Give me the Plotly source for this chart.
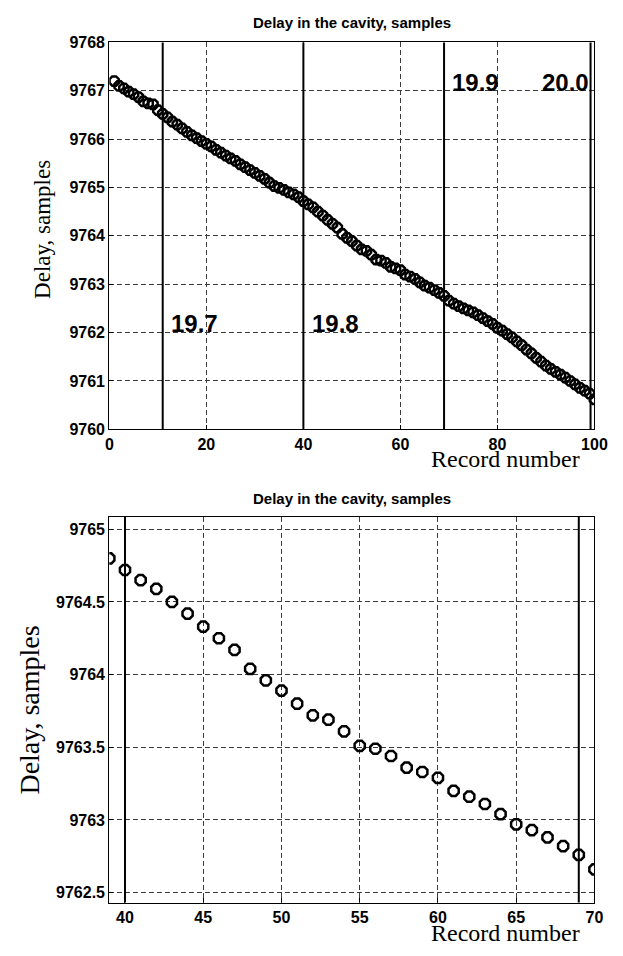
import plotly.graph_objects as go

# ---- data ----
record = list(range(1, 101))
delay = [
    9767.20, 9767.10, 9767.05, 9766.98, 9766.93, 9766.87, 9766.78, 9766.74, 9766.72, 9766.60,
    9766.52, 9766.45, 9766.36, 9766.30, 9766.22, 9766.15, 9766.08, 9766.02, 9765.96, 9765.90,
    9765.85, 9765.78, 9765.72, 9765.66, 9765.60, 9765.55, 9765.48, 9765.42, 9765.36, 9765.30,
    9765.24, 9765.18, 9765.10, 9765.03, 9764.99, 9764.95, 9764.90, 9764.86, 9764.80, 9764.72,
    9764.65, 9764.59, 9764.50, 9764.42, 9764.33, 9764.25, 9764.17, 9764.04, 9763.96, 9763.89,
    9763.80, 9763.72, 9763.69, 9763.61, 9763.51, 9763.49, 9763.44, 9763.36, 9763.33, 9763.29,
    9763.20, 9763.16, 9763.11, 9763.04, 9762.97, 9762.93, 9762.88, 9762.82, 9762.76, 9762.66,
    9762.60, 9762.55, 9762.50, 9762.46, 9762.42, 9762.36, 9762.30, 9762.24, 9762.18, 9762.10,
    9762.04, 9761.97, 9761.90, 9761.82, 9761.74, 9761.65, 9761.57, 9761.48, 9761.40, 9761.32,
    9761.25, 9761.19, 9761.13, 9761.07, 9761.00, 9760.93, 9760.86, 9760.80, 9760.74, 9760.62,
]
zoom_start, zoom_end = 39, 70

marker_records = [11, 40, 69, 99.2]
marker_labels = ["19.7", "19.8", "19.9", "20.0"]
marker_label_y = [9762.18, 9762.18, 9767.18, 9767.18]
zoom_markers = [40, 69]

top_xticks = [0, 20, 40, 60, 80, 100]
top_yticks = [9760, 9761, 9762, 9763, 9764, 9765, 9766, 9767, 9768]
top_yticktext = ["9760", "9761", "9762", "9763", "9764", "9765", "9766", "9767", "9768"]
bot_xticks = [40, 45, 50, 55, 60, 65, 70]
bot_yticks = [9762.5, 9763, 9763.5, 9764, 9764.5, 9765]
bot_yticktext = ["9762.5", "9763", "9763.5", "9764", "9764.5", "9765"]

title_text = "Delay in the cavity, samples"
xlabel = "Record number"
ylabel = "Delay, samples"

# ---- figure ----
W, H = 623, 956
fig = go.Figure()

marker_style = dict(symbol="octagon-open", size=10, color="black",
                    line=dict(color="black", width=2.5))

fig.add_trace(go.Scatter(x=record, y=delay, mode="markers", marker=marker_style,
                         xaxis="x", yaxis="y", showlegend=False))

i0 = record.index(zoom_start)
i1 = record.index(zoom_end) + 1
fig.add_trace(go.Scatter(x=record[i0:i1], y=delay[i0:i1], mode="markers",
                         marker=dict(marker_style, size=11),
                         xaxis="x2", yaxis="y2", showlegend=False))

xdom = [108.3 / W, 607 / W]
ydom_top = [1 - 429 / H, 1 - 35 / H]
ydom_bot = [1 - 910.7 / H, 1 - 518.3 / H]

tickfont = dict(family="Arial, Liberation Sans, sans-serif", size=16, color="black")
common_axis = dict(showline=True, linecolor="black", linewidth=1.3, mirror=True,
                   showgrid=True, gridcolor="#3a3a3a", gridwidth=1, griddash="5px,3px",
                   zeroline=False, ticks="inside", ticklen=4, tickcolor="black",
                   tickfont=tickfont)

fig.update_layout(
    width=W, height=H, margin=dict(l=0, r=0, t=0, b=0),
    paper_bgcolor="white", plot_bgcolor="white",
    xaxis=dict(common_axis, domain=xdom, range=[0, 100], tickvals=top_xticks,
               ticktext=["<b>%s</b>" % v for v in top_xticks], anchor="y"),
    yaxis=dict(common_axis, domain=ydom_top, range=[9760, 9768], tickvals=top_yticks,
               ticktext=["<b>%s</b>" % t for t in top_yticktext], anchor="x"),
    xaxis2=dict(common_axis, domain=xdom, range=[zoom_start, zoom_end], tickvals=bot_xticks,
                ticktext=["<b>%s</b>" % v for v in bot_xticks], anchor="y2"),
    yaxis2=dict(common_axis, domain=ydom_bot, range=[9762.432, 9765.084], tickvals=bot_yticks,
                ticktext=["<b>%s</b>" % t for t in bot_yticktext], anchor="x2"),
)

shapes = []
for xv in marker_records:
    shapes.append(dict(type="line", xref="x", yref="y domain", x0=xv, x1=xv, y0=0, y1=1,
                       line=dict(color="black", width=2)))
for xv in zoom_markers:
    shapes.append(dict(type="line", xref="x2", yref="y2 domain", x0=xv, x1=xv, y0=0, y1=1,
                       line=dict(color="black", width=2)))
fig.update_layout(shapes=shapes)

ann = []
bold = dict(family="Arial, Liberation Sans, sans-serif", size=24, color="black")
for xv, lab, yv in zip(marker_records, marker_labels, marker_label_y):
    if lab == "20.0":
        ann.append(dict(x=xv, y=yv, xref="x", yref="y", text="<b>%s</b>" % lab,
                        showarrow=False, xanchor="right", yanchor="middle", font=bold))
    else:
        ann.append(dict(x=xv + 1.3, y=yv, xref="x", yref="y", text="<b>%s</b>" % lab,
                        showarrow=False, xanchor="left", yanchor="middle", font=bold))

title_font = dict(family="Arial, Liberation Sans, sans-serif", size=15, color="black")
cx = (xdom[0] + xdom[1]) / 2
ann.append(dict(x=cx, y=1 - 15 / H, xref="paper", yref="paper", text="<b>%s</b>" % title_text,
                showarrow=False, xanchor="center", yanchor="middle", font=title_font))
ann.append(dict(x=cx, y=1 - 499 / H, xref="paper", yref="paper", text="<b>%s</b>" % title_text,
                showarrow=False, xanchor="center", yanchor="middle", font=title_font))

serif = dict(family="Liberation Serif, Times New Roman, serif", color="black")
ann.append(dict(x=594 / W, y=1 - 459 / H, xref="paper", yref="paper", text=xlabel,
                showarrow=False, xanchor="right", yanchor="middle", font=dict(serif, size=24)))
ann.append(dict(x=594 / W, y=1 - 942 / H, xref="paper", yref="paper", text=xlabel,
                showarrow=False, xanchor="right", yanchor="middle", font=dict(serif, size=24)))
ann.append(dict(x=40 / W, y=1 - 225 / H, xref="paper", yref="paper", text=ylabel, textangle=-90,
                showarrow=False, xanchor="center", yanchor="middle", font=dict(serif, size=23)))
ann.append(dict(x=26 / W, y=1 - 715 / H, xref="paper", yref="paper", text=ylabel, textangle=-90,
                showarrow=False, xanchor="center", yanchor="middle", font=dict(serif, size=28)))
fig.update_layout(annotations=ann)

fig.write_html("out.html")
